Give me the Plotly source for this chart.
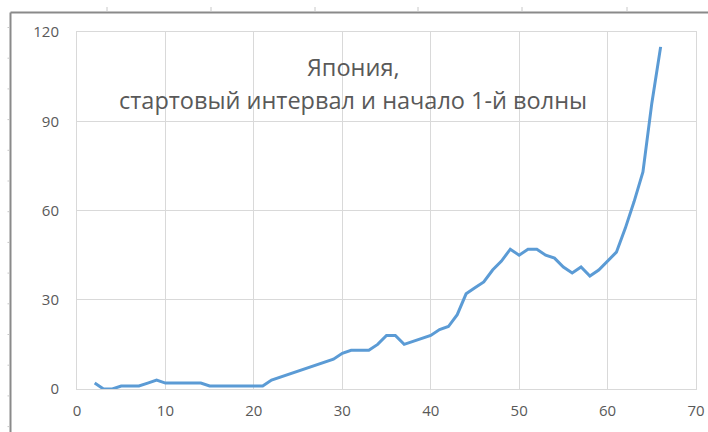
import plotly.graph_objects as go

# Day number and value series
days = list(range(2, 67))
values = [
    2, 0, 0, 1, 1, 1, 2, 3, 2, 2,        # 2-11
    2, 2, 2, 1, 1, 1, 1, 1, 1, 1,        # 12-21
    3, 4, 5, 6, 7, 8, 9, 10, 12, 13,     # 22-31
    13, 13, 15, 18, 18, 15, 16, 17, 18, 20,  # 32-41
    21, 25, 32, 34, 36, 40, 43, 47, 45, 47,  # 42-51
    47, 45, 44, 41, 39, 41, 38, 40, 43, 46,  # 52-61
    54, 63, 73, 96, 115,                  # 62-66
]

x_ticks = [0, 10, 20, 30, 40, 50, 60, 70]
y_ticks = [0, 30, 60, 90, 120]

title_line1 = "Япония,"
title_line2 = "стартовый интервал и начало 1-й волны"

W, H = 708, 432
L, R, T, B = 77, 12, 32, 43
PW, PH = W - L - R, H - T - B

def px_x(px):
    return (px - L) / PW

def px_y(py):
    return (H - B - py) / PH

FONT = "Open Sans"
TXT = "#595959"
GRID = "#d9d9d9"

fig = go.Figure()
fig.add_trace(go.Scatter(
    x=days, y=values, mode="lines",
    line=dict(color="#5b9bd5", width=3),
    hoverinfo="x+y", showlegend=False,
))

fig.update_xaxes(
    range=[0, 70], tickvals=x_ticks, ticktext=[str(v) for v in x_ticks],
    showgrid=True, gridcolor=GRID, gridwidth=1,
    showline=True, linecolor=GRID, linewidth=1, mirror=True,
    zeroline=False, ticks="", ticklabelstandoff=8, automargin=False,
    tickfont=dict(family=FONT, size=15, color=TXT),
)
fig.update_yaxes(
    range=[0, 120], tickvals=y_ticks, ticktext=[str(v) for v in y_ticks],
    showgrid=True, gridcolor=GRID, gridwidth=1,
    showline=True, linecolor=GRID, linewidth=1, mirror=True,
    zeroline=False, ticks="", ticklabelstandoff=14, automargin=False,
    tickfont=dict(family=FONT, size=15, color=TXT),
)

shapes = []
# outer frame: left and top border
frame_col = "#8a8a8a"
shapes.append(dict(type="line", xref="paper", yref="paper",
                   x0=px_x(10.5), x1=px_x(10.5), y0=px_y(12.5), y1=px_y(440),
                   line=dict(color=frame_col, width=2)))
shapes.append(dict(type="line", xref="paper", yref="paper",
                   x0=px_x(10.5), x1=px_x(715), y0=px_y(12.5), y1=px_y(12.5),
                   line=dict(color=frame_col, width=2)))
# small sheet ticks along the frame
for tx in [107, 211, 315, 418, 522, 627]:
    shapes.append(dict(type="line", xref="paper", yref="paper",
                       x0=px_x(tx), x1=px_x(tx), y0=px_y(7), y1=px_y(11.5),
                       line=dict(color="#c8c8c8", width=1)))
for k in range(14):
    ty = 27.5 + 30.7 * k
    shapes.append(dict(type="line", xref="paper", yref="paper",
                       x0=px_x(7.5), x1=px_x(9.5), y0=px_y(ty), y1=px_y(ty),
                       line=dict(color="#c8c8c8", width=1)))

annotations = [
    dict(text=title_line1, x=px_x(353), y=px_y(67), xref="paper", yref="paper",
         xanchor="center", yanchor="middle", showarrow=False,
         font=dict(family=FONT, size=23.5, color=TXT)),
    dict(text=title_line2, x=px_x(353), y=px_y(100), xref="paper", yref="paper",
         xanchor="center", yanchor="middle", showarrow=False,
         font=dict(family=FONT, size=23.5, color=TXT)),
]

fig.update_layout(
    width=W, height=H, autosize=False,
    margin=dict(l=L, r=R, t=T, b=B),
    paper_bgcolor="white", plot_bgcolor="white",
    shapes=shapes, annotations=annotations,
    showlegend=False,
)

fig.write_html("out.html")
